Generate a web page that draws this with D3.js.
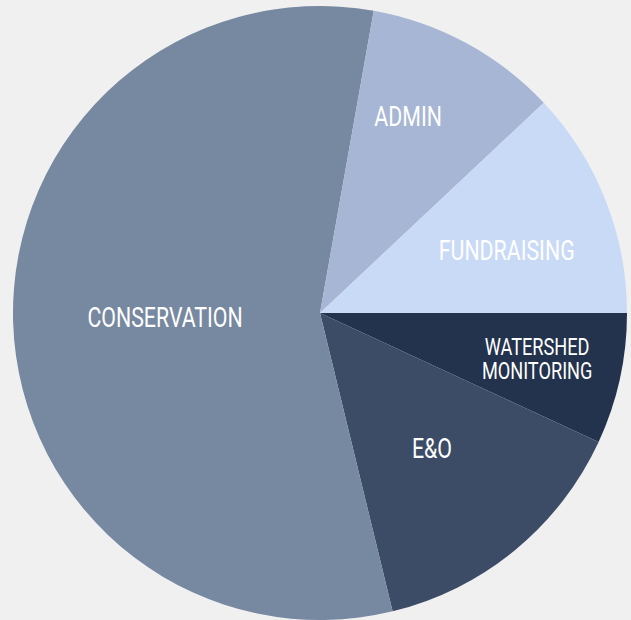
<!DOCTYPE html>
<html>
<head>
<meta charset="utf-8">
<script src="https://cdn.jsdelivr.net/npm/d3@7"></script>
<style>
  html, body { margin: 0; padding: 0; background: #f0f0f0; }
  svg { display: block; }
</style>
</head>
<body>
<svg id="chart" width="631" height="620"></svg>
<script>
// Data (clockwise from 3 o'clock)
const categories = ["WATERSHED MONITORING", "E&O", "CONSERVATION", "ADMIN", "FUNDRAISING"];
const values = [6.9, 14.3, 56.6, 10.2, 12.0];

// Styles
const colors = {
  "WATERSHED MONITORING": "#23334d",
  "E&O": "#3c4c66",
  "CONSERVATION": "#7788a1",
  "ADMIN": "#a6b6d4",
  "FUNDRAISING": "#c9daf7"
};
// label placement: polar (degrees clockwise from 12 o'clock, radius in px)
const labelPolar = {
  "WATERSHED MONITORING": { a: 102, r: 222, size: 23 },
  "E&O": { a: 140.5, r: 176, size: 27 },
  "CONSERVATION": { a: 268.2, r: 155, size: 27 },
  "ADMIN": { a: 24.2, r: 215, size: 27 },
  "FUNDRAISING": { a: 71.4, r: 197, size: 27 }
};

const W = 631, H = 620;
const cx = 320, cy = 313, R = 307;

const svg = d3.select("#chart");
svg.append("rect").attr("width", W).attr("height", H).attr("fill", "#f0f0f0");

const data = categories.map((c, i) => ({ cat: c, value: values[i] }));
const pie = d3.pie().sort(null).value(d => d.value)
  .startAngle(Math.PI / 2).endAngle(Math.PI / 2 + 2 * Math.PI);
const arc = d3.arc().innerRadius(0).outerRadius(R);

const g = svg.append("g").attr("transform", `translate(${cx},${cy})`);
const arcs = pie(data);

g.selectAll("path.slice").data(arcs).join("path")
  .attr("class", "slice")
  .attr("d", arc)
  .attr("fill", d => colors[d.data.cat]);

const labels = g.selectAll("g.lab").data(arcs).join("g")
  .attr("class", "lab")
  .attr("transform", d => {
    const p = labelPolar[d.data.cat];
    const a = p.a * Math.PI / 180;
    return `translate(${p.r * Math.sin(a)},${-p.r * Math.cos(a)}) scale(0.79,1)`;
  });

labels.each(function(d) {
  const p = labelPolar[d.data.cat];
  const words = d.data.cat.split(" ");
  const lh = p.size * 1.05;
  const t = d3.select(this).append("text")
    .attr("text-anchor", "middle")
    .attr("fill", "#ffffff")
    .attr("font-family", "Roboto, 'DejaVu Sans', sans-serif")
    .attr("font-size", p.size);
  words.forEach((w, i) => {
    t.append("tspan")
      .attr("x", 0)
      .attr("y", (i - (words.length - 1) / 2) * lh)
      .attr("dy", "0.35em")
      .text(w);
  });
});
</script>
</body>
</html>
